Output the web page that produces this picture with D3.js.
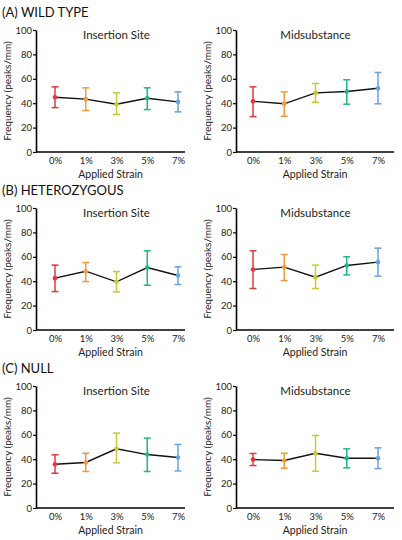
<!DOCTYPE html>
<html>
<head>
<meta charset="utf-8">
<script src="https://cdn.jsdelivr.net/npm/d3@7"></script>
<style>
    body { margin: 0; background: #fff; }
    text { font-family: Lato, "Open Sans", sans-serif; }
</style>
</head>
<body>
<div id="chart-container"></div>
<script>
// small multiples: 3 genotypes x 2 regions, mean +- error per strain level
const svgWidth = 402;
const svgHeight = 540;

const strainLabels = ["0%", "1%", "3%", "5%", "7%"];
const groupTitles = ["(A) WILD TYPE", "(B) HETEROZYGOUS", "(C) NULL"];
const regionTitles = ["Insertion Site", "Midsubstance"];
const yTicks = [0, 20, 40, 60, 80, 100];

// one color per strain level
const strainColors = ["#e2383f", "#f29b38", "#c9c837", "#25b487", "#66a3e2"];

// means, lower and upper ends of error bars
const wtInsertMean = [44.9, 43.3, 39.2, 44.1, 41.1];
const wtInsertLow = [36.4, 34.0, 30.7, 34.8, 32.9];
const wtInsertHigh = [53.4, 52.6, 48.5, 52.6, 49.3];

const wtMidMean = [41.6, 39.5, 48.5, 49.6, 52.3];
const wtMidLow = [29.0, 29.3, 40.8, 39.2, 39.5];
const wtMidHigh = [53.4, 49.3, 56.2, 59.2, 65.2];

const hetInsertMean = [42.5, 48.2, 39.5, 51.2, 44.7];
const hetInsertLow = [31.5, 39.7, 31.2, 36.7, 37.3];
const hetInsertHigh = [53.2, 55.3, 47.9, 64.9, 51.8];

const hetMidMean = [49.6, 51.5, 43.3, 52.9, 55.6];
const hetMidLow = [34.0, 40.5, 34.0, 45.2, 44.1];
const hetMidHigh = [64.9, 61.9, 53.2, 60.0, 67.1];

const nullInsertMean = [35.9, 37.3, 48.5, 43.8, 41.4];
const nullInsertLow = [28.5, 29.9, 37.0, 29.9, 30.4];
const nullInsertHigh = [43.6, 44.9, 61.4, 57.3, 52.1];

const nullMidMean = [39.7, 38.9, 44.9, 40.8, 40.8];
const nullMidLow = [34.8, 32.6, 30.1, 32.9, 32.3];
const nullMidHigh = [44.7, 44.9, 59.5, 48.5, 49.3];

// rows of [mean, low, high] for left and right panel
const panelData = [
    [[wtInsertMean, wtInsertLow, wtInsertHigh], [wtMidMean, wtMidLow, wtMidHigh]],
    [[hetInsertMean, hetInsertLow, hetInsertHigh], [hetMidMean, hetMidLow, hetMidHigh]],
    [[nullInsertMean, nullInsertLow, nullInsertHigh], [nullMidMean, nullMidLow, nullMidHigh]]
];

// column geometry: axis start/end and first/last point position
const columns = [
    { axisLeft: 36, axisRight: 185, first: 55, last: 178 },
    { axisLeft: 236, axisRight: 394, first: 253, last: 378 }
];
const rowStep = 178;
const plotTop = 30;
const plotBottom = 152;

const svg = d3.select("#chart-container")
    .append("svg")
    .attr("width", svgWidth)
    .attr("height", svgHeight);

groupTitles.forEach(function (title, row) {
    const oy = row * rowStep;

    svg.append("text")
        .text(title)
        .attr("x", 2)
        .attr("y", oy + 17)
        .attr("font-size", "13px")
        .attr("fill", "#111");

    columns.forEach(function (col, c) {
        const [means, lows, highs] = panelData[row][c];

        const x = d3.scalePoint()
            .domain(strainLabels)
            .range([col.first, col.last]);

        const y = d3.scaleLinear()
            .domain([0, 100])
            .range([oy + plotBottom, oy + plotTop]);

        const g = svg.append("g");

        // y axis
        g.append("g")
            .attr("transform", `translate(${col.axisLeft},0)`)
            .call(d3.axisLeft(y).tickValues(yTicks).tickSize(3).tickPadding(1).tickSizeOuter(0))
            .call(a => a.select(".domain").attr("stroke-width", 1.6))
            .call(a => a.selectAll(".tick line").attr("stroke-width", 1.2))
            .call(a => a.selectAll(".tick text").attr("font-size", "9.5px").attr("fill", "#222"));

        // x axis: just a line plus labels, no tick marks
        g.append("g")
            .attr("transform", `translate(0,${oy + plotBottom})`)
            .call(d3.axisBottom(x).tickSize(0).tickPadding(5).tickSizeOuter(0))
            .call(a => a.select(".domain")
                .attr("d", `M${col.axisLeft},0H${col.axisRight}`)
                .attr("stroke-width", 1.6))
            .call(a => a.selectAll(".tick text").attr("font-size", "9.5px").attr("fill", "#222"));

        // axis titles
        g.append("text")
            .text("Applied Strain")
            .attr("x", (col.axisLeft + col.axisRight) / 2)
            .attr("y", oy + 178)
            .attr("text-anchor", "middle")
            .attr("font-size", "10.5px")
            .attr("fill", "#222");

        g.append("text")
            .text("Frequency (peaks/mm)")
            .attr("transform", `translate(${col.axisLeft - 25},${y(50)}) rotate(-90)`)
            .attr("text-anchor", "middle")
            .attr("font-size", "10px")
            .attr("fill", "#222");

        g.append("text")
            .text(regionTitles[c])
            .attr("x", (col.first + col.last) / 2)
            .attr("y", oy + 39)
            .attr("text-anchor", "middle")
            .attr("font-size", "11.5px")
            .attr("fill", "#222");

        const pts = strainLabels.map((s, i) => ({ s: s, mean: means[i], low: lows[i], high: highs[i], color: strainColors[i] }));

        // error bars with caps
        const bars = g.selectAll(".err")
            .data(pts)
            .enter()
            .append("g")
            .attr("stroke", d => d.color)
            .attr("stroke-width", 1.5);

        bars.append("line")
            .attr("x1", d => x(d.s))
            .attr("x2", d => x(d.s))
            .attr("y1", d => y(d.low))
            .attr("y2", d => y(d.high));
        bars.append("line")
            .attr("x1", d => x(d.s) - 3.5)
            .attr("x2", d => x(d.s) + 3.5)
            .attr("y1", d => y(d.high))
            .attr("y2", d => y(d.high));
        bars.append("line")
            .attr("x1", d => x(d.s) - 3.5)
            .attr("x2", d => x(d.s) + 3.5)
            .attr("y1", d => y(d.low))
            .attr("y2", d => y(d.low));

        // mean line
        g.append("path")
            .datum(pts)
            .attr("fill", "none")
            .attr("stroke", "#111")
            .attr("stroke-width", 1.4)
            .attr("d", d3.line().x(d => x(d.s)).y(d => y(d.mean)));

        g.selectAll(".dot")
            .data(pts)
            .enter()
            .append("circle")
            .attr("cx", d => x(d.s))
            .attr("cy", d => y(d.mean))
            .attr("r", 2.3)
            .attr("fill", d => d.color);
    });
});
</script>
</body>
</html>
